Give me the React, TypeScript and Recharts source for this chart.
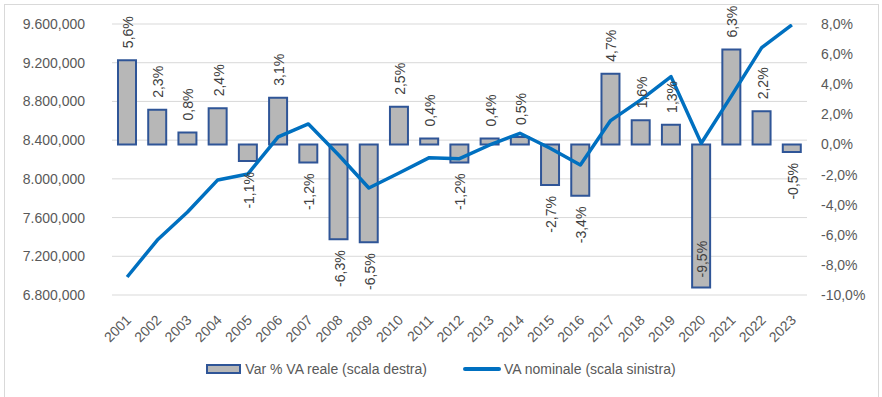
import React from 'react';
import {
  ComposedChart,
  Bar,
  Line,
  XAxis,
  YAxis,
  CartesianGrid,
  LabelList,
  Legend,
} from 'recharts';

const years = [
  '2001', '2002', '2003', '2004', '2005', '2006', '2007', '2008', '2009', '2010', '2011', '2012',
  '2013', '2014', '2015', '2016', '2017', '2018', '2019', '2020', '2021', '2022', '2023',
];

// Var % VA reale (right axis)
const varReale = [
  5.6, 2.3, 0.8, 2.4, -1.1, 3.1, -1.2, -6.3, -6.5, 2.5, 0.4, -1.2,
  0.4, 0.5, -2.7, -3.4, 4.7, 1.6, 1.3, -9.5, 6.3, 2.2, -0.5,
];

// VA nominale (left axis)
const vaNominale = [
  6986000, 7368000, 7658000, 7989000, 8051000, 8433000, 8567000, 8247000, 7906000, 8061000, 8219000, 8209000,
  8350000, 8471000, 8316000, 8144000, 8602000, 8816000, 9056000, 8368000, 8857000, 9356000, 9591000,
];

const leftTicks = [6800000, 7200000, 7600000, 8000000, 8400000, 8800000, 9200000, 9600000];
const rightTicks = [-10, -8, -6, -4, -2, 0, 2, 4, 6, 8];

const data = years.map((y, i) => ({ year: y, varReale: varReale[i], vaNominale: vaNominale[i] }));

const FONT = '"Liberation Sans", Arial, sans-serif';
const TEXT = '#595959';
const LABEL = '#404040';
const BAR_FILL = '#b7b7b7';
const BAR_STROKE = '#2f5597';
const LINE = '#0070c0';
const GRID = '#d9d9d9';

const W = 882;
const H = 397;
const PLOT_BOTTOM = 295;

const fmtLeft = (v: number) => {
  const m = Math.floor(v / 1e6);
  const k = Math.round((v % 1e6) / 1000);
  return `${m}.${String(k).padStart(3, '0')},000`;
};
const fmtPct = (v: number) => `${v.toFixed(1).replace('.', ',')}%`;

const XTick = (props: any) => {
  const { x, y, payload } = props;
  const ax = x + 5;
  const ay = y + 26;
  return (
    <text
      x={ax}
      y={ay}
      transform={`rotate(-45 ${ax} ${ay})`}
      textAnchor="end"
      fill={TEXT}
      fontSize={14}
      fontFamily={FONT}
    >
      {payload.value}
    </text>
  );
};

const BarLabel = (props: any) => {
  const { x, y, width, height, value } = props;
  const v = Number(value);
  const cx = x + width / 2 + 1;
  const top = Math.min(y, y + height);
  const bottom = Math.max(y, y + height);
  const txt = fmtPct(v);
  const len = txt.length * 8;
  let ay: number;
  let anchor: 'start' | 'end';
  if (v >= 0) {
    ay = top - 12;
    anchor = 'start';
  } else if (bottom + 11 + len > PLOT_BOTTOM) {
    ay = bottom - 10;
    anchor = 'start';
  } else {
    ay = bottom + 11;
    anchor = 'end';
  }
  return (
    <text
      x={cx}
      y={ay}
      transform={`rotate(-90 ${cx} ${ay})`}
      textAnchor={anchor}
      dominantBaseline="central"
      fill={LABEL}
      fontSize={14}
      fontFamily={FONT}
    >
      {txt}
    </text>
  );
};

const LegendContent = () => (
  <div
    style={{
      height: 56,
      display: 'flex',
      alignItems: 'center',
      justifyContent: 'center',
      fontFamily: FONT,
      fontSize: 14,
      color: TEXT,
      whiteSpace: 'nowrap',
    }}
  >
    <span
      style={{
        display: 'inline-block',
        width: 31,
        height: 6,
        background: BAR_FILL,
        border: `2px solid ${BAR_STROKE}`,
        marginRight: 4,
      }}
    />
    <span>Var % VA reale (scala destra)</span>
    <span
      style={{
        display: 'inline-block',
        width: 38,
        height: 4,
        borderRadius: 2,
        background: LINE,
        marginLeft: 36,
        marginRight: 3,
      }}
    />
    <span>VA nominale (scala sinistra)</span>
  </div>
);

export default function App() {
  return (
    <div
      style={{
        position: 'fixed',
        left: 0,
        top: 0,
        width: W,
        height: H,
        background: '#fff',
        overflow: 'hidden',
      }}
    >
      <div
        style={{
          position: 'absolute',
          left: 4,
          top: 4,
          width: 875,
          height: 420,
          border: `1px solid ${GRID}`,
          boxSizing: 'border-box',
        }}
      />
      <div style={{ position: 'absolute', left: 0, top: 0 }}>
        <ComposedChart
          width={W}
          height={H}
          data={data}
          margin={{ top: 24, right: 0, bottom: 0, left: 0 }}
          barCategoryGap="33%"
        >
          <CartesianGrid vertical={false} yAxisId="left" stroke={GRID} strokeWidth={1} />
          <XAxis
            dataKey="year"
            interval={0}
            height={46}
            tickLine={false}
            axisLine={false}
            tickSize={0}
            tickMargin={0}
            tick={<XTick />}
          />
          <YAxis
            yAxisId="left"
            orientation="left"
            domain={[6800000, 9600000]}
            ticks={leftTicks}
            tickFormatter={fmtLeft}
            width={112}
            axisLine={false}
            tickLine={false}
            tickSize={0}
            tickMargin={27}
            tick={{ fill: TEXT, fontSize: 14, fontFamily: FONT }}
            allowDataOverflow
          />
          <YAxis
            yAxisId="right"
            orientation="right"
            domain={[-10, 8]}
            ticks={rightTicks}
            tickFormatter={fmtPct}
            width={75}
            axisLine={false}
            tickLine={false}
            tickSize={0}
            tickMargin={14}
            tick={{ fill: TEXT, fontSize: 14, fontFamily: FONT, textAnchor: 'start' }}
            allowDataOverflow
          />
          <Legend verticalAlign="bottom" content={<LegendContent />} />
          <Bar
            yAxisId="right"
            dataKey="varReale"
            name="Var % VA reale (scala destra)"
            fill={BAR_FILL}
            stroke={BAR_STROKE}
            strokeWidth={2}
            barSize={18}
            isAnimationActive={false}
          >
            <LabelList dataKey="varReale" content={<BarLabel />} />
          </Bar>
          <Line
            yAxisId="left"
            type="linear"
            dataKey="vaNominale"
            name="VA nominale (scala sinistra)"
            stroke={LINE}
            strokeWidth={3.5}
            strokeLinejoin="round"
            dot={false}
            activeDot={false}
            isAnimationActive={false}
          />
        </ComposedChart>
      </div>
    </div>
  );
}
